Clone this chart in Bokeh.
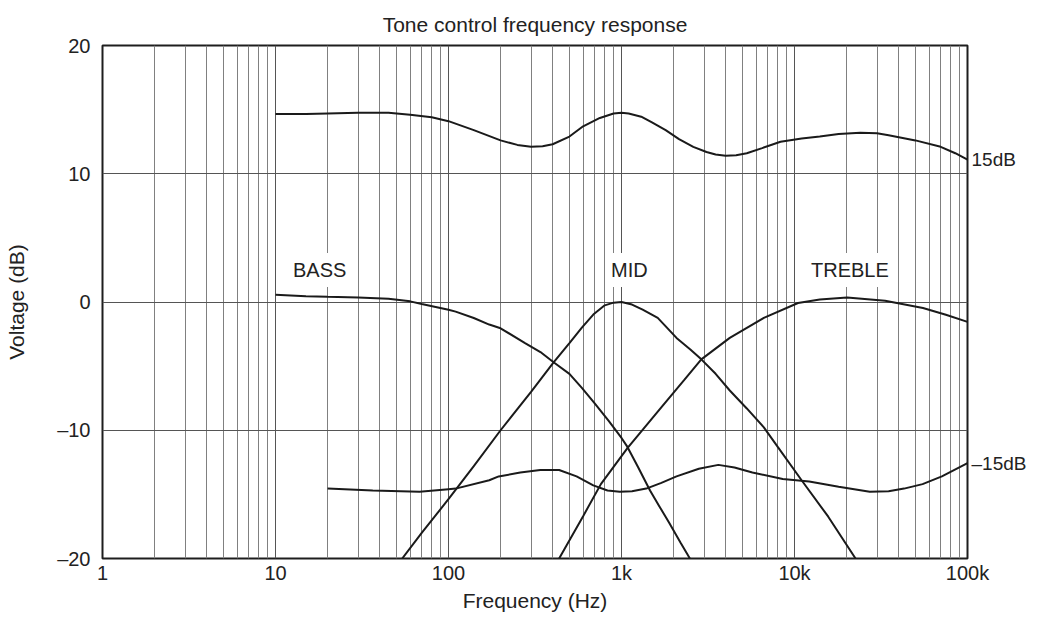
from bokeh.plotting import figure
from bokeh.models import LinearAxis, FixedTicker, Range1d, Label
from bokeh.embed import file_html
from bokeh.resources import INLINE

# ---------------- data ----------------
top_hz = [10, 15, 20, 30, 45, 60, 80, 100, 140, 200, 250, 300, 350, 400, 500, 600, 750, 900,
          1000, 1100, 1300, 1500, 1800, 2150, 2600, 3100, 3500, 4000, 4600, 5300, 6500, 8300,
          11000, 14000, 18000, 24000, 30000, 35000, 50000, 70000, 85000, 100000]
top_db = [14.65, 14.65, 14.7, 14.75, 14.75, 14.6, 14.4, 14.1, 13.4, 12.6, 12.25, 12.1, 12.15, 12.3,
          12.9, 13.7, 14.35, 14.7, 14.75, 14.7, 14.45, 14.0, 13.4, 12.7, 12.1, 11.7, 11.5, 11.4,
          11.45, 11.6, 12.0, 12.5, 12.75, 12.9, 13.1, 13.2, 13.15, 13.0, 12.6, 12.1, 11.6, 11.1]

bass_hz = [10, 15, 20, 30, 45, 60, 70, 100, 110, 140, 172, 200, 277, 340, 405, 500, 590, 700,
           841, 1000, 1082, 1250, 1462, 1650, 1882, 2200, 2485]
bass_db = [0.57, 0.45, 0.4, 0.35, 0.26, 0.05, -0.15, -0.6, -0.75, -1.25, -1.76, -2.05, -3.2, -3.9,
           -4.7, -5.6, -6.7, -7.9, -9.25, -10.6, -11.3, -12.9, -14.7, -15.9, -17.2, -18.8, -20.0]

mid_hz = [54, 70, 101, 140, 200, 300, 405, 500, 590, 687, 800, 900, 1000, 1150, 1325, 1620, 2080,
          2500, 2893, 3500, 4225, 5300, 6650, 8000, 10990, 15670, 22530]
mid_db = [-20.0, -18.0, -15.3, -12.8, -10.0, -7.0, -4.7, -3.2, -2.0, -0.98, -0.26, -0.05, 0.0, -0.2,
          -0.6, -1.24, -2.8, -3.7, -4.47, -5.6, -6.9, -8.3, -9.77, -11.3, -13.9, -16.74, -20.0]

treble_hz = [436, 600, 760, 1082, 1703, 2300, 2893, 4225, 6650, 10480, 14000, 20150, 33400,
             55300, 75000, 100000]
treble_db = [-20.0, -16.7, -14.2, -11.4, -8.2, -6.1, -4.47, -2.8, -1.24, -0.08, 0.2, 0.36, 0.1,
             -0.47, -1.0, -1.55]

bottom_hz = [20, 36.5, 68, 100, 110, 172, 195, 260, 339, 436, 550, 687, 830, 977, 1150, 1390, 1700,
             2080, 2800, 3630, 4500, 5710, 8550, 12160, 18000, 27230, 35000, 42980, 55000, 71100,
             100000]
bottom_db = [-14.55, -14.7, -14.8, -14.6, -14.55, -13.9, -13.6, -13.3, -13.1, -13.1, -13.6, -14.3,
             -14.7, -14.8, -14.75, -14.55, -14.1, -13.6, -13.0, -12.7, -12.9, -13.3, -13.8, -14.0,
             -14.4, -14.8, -14.75, -14.55, -14.2, -13.6, -12.56]

x_ticks = [1, 10, 100, 1000, 10000, 100000]
x_tick_labels = ["1", "10", "100", "1k", "10k", "100k"]
y_ticks = [-20, -10, 0, 10, 20]
y_tick_labels = ["\u201320", "\u201310", "0", "10", "20"]
end_labels = ["15dB", "\u201315dB"]

band_names = ["BASS", "MID", "TREBLE"]
band_hz = [18, 1110, 20900]
band_db = [2.5, 2.5, 2.5]

FONT = "Liberation Sans"
TXT = "#222222"
FS = "20px"
FS_BIG = "21px"

p = figure(width=1029, height=614, x_axis_type="log",
           x_range=Range1d(1, 100000), y_range=Range1d(-20, 20),
           output_backend="svg", toolbar_location=None,
           min_border_left=102, min_border_right=60, min_border_top=42, min_border_bottom=56,
           background_fill_color="white", border_fill_color="white")

p.title.text = "Tone control frequency response"
p.title.align = "center"
p.title.text_font = FONT
p.title.text_font_size = FS_BIG
p.title.text_font_style = "normal"
p.title.text_color = TXT
p.title.standoff = 20

p.outline_line_color = "#1e1e1e"
p.outline_line_width = 2

minor = [d * m for d in x_ticks[:-1] for m in range(2, 10)]
p.xaxis.ticker = FixedTicker(ticks=x_ticks, minor_ticks=minor)
p.xaxis.major_label_overrides = dict(zip(x_ticks, x_tick_labels))
p.yaxis.ticker = FixedTicker(ticks=y_ticks)
p.yaxis.major_label_overrides = dict(zip(y_ticks, y_tick_labels))

for ax in (p.xaxis[0], p.yaxis[0]):
    ax.axis_line_color = None
    ax.major_tick_line_color = None
    ax.minor_tick_line_color = None
    ax.major_tick_out = 0
    ax.major_tick_in = 0
    ax.minor_tick_out = 0
    ax.minor_tick_in = 0
    ax.major_label_text_font = FONT
    ax.major_label_text_font_size = FS
    ax.major_label_text_color = TXT
    ax.axis_label_text_font = FONT
    ax.axis_label_text_font_size = FS_BIG
    ax.axis_label_text_font_style = "normal"
    ax.axis_label_text_color = TXT

p.xaxis.axis_label = "Frequency (Hz)"
p.yaxis.axis_label = "Voltage (dB)"
p.xaxis.major_label_standoff = 3
p.xaxis.axis_label_standoff = 2
p.yaxis.major_label_standoff = 12
p.yaxis.axis_label_standoff = 26

p.xgrid.grid_line_color = "#555555"
p.xgrid.minor_grid_line_color = "#808080"
p.xgrid.grid_line_width = 1
p.ygrid.grid_line_color = "#555555"

right = LinearAxis(ticker=FixedTicker(ticks=[top_db[-1], bottom_db[-1]]))
right.major_label_overrides = {top_db[-1]: end_labels[0], bottom_db[-1]: end_labels[1]}
right.axis_line_color = None
right.major_tick_line_color = None
right.minor_tick_line_color = None
right.major_tick_out = 0
right.major_tick_in = 0
right.minor_tick_out = 0
right.minor_tick_in = 0
right.major_label_text_font = FONT
right.major_label_text_font_size = "19px"
right.major_label_text_color = TXT
right.major_label_standoff = 4
p.add_layout(right, "right")

for xs, ys in ((top_hz, top_db), (bass_hz, bass_db), (mid_hz, mid_db),
               (treble_hz, treble_db), (bottom_hz, bottom_db)):
    p.line(xs, ys, line_color="#1a1a1a", line_width=2)

for name, fx, fy in zip(band_names, band_hz, band_db):
    p.add_layout(Label(x=fx, y=fy, text=name, text_align="center", text_baseline="middle",
                       text_font=FONT, text_font_size=FS, text_color=TXT,
                       background_fill_color="white", padding=6))

open("out.html", "w").write(file_html(p, INLINE))
